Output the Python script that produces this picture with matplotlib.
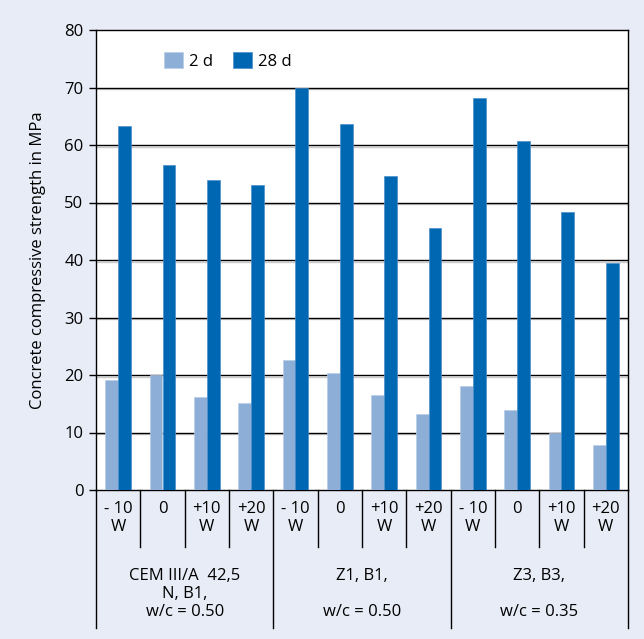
import matplotlib
matplotlib.use("Agg")
import matplotlib.pyplot as plt
import matplotlib.patheffects as pe
import numpy as np

plt.rcParams['font.family'] = ['Open Sans', 'DejaVu Sans']

sub_labels = ["- 10\nW", "0", "+10\nW", "+20\nW"] * 3
group_labels = ["CEM III/A  42,5\nN, B1,\nw/c = 0.50",
                "Z1, B1,\n\nw/c = 0.50",
                "Z3, B3,\n\nw/c = 0.35"]
series_names = ["2 d", "28 d"]
vals_2d = [19.1, 20.0, 16.2, 15.2, 22.6, 20.3, 16.5, 13.3, 18.1, 13.9, 10.0, 7.8]
vals_28d = [63.3, 56.5, 54.0, 53.0, 70.0, 63.6, 54.6, 45.6, 68.1, 60.7, 48.4, 39.5]
yticks = [0, 10, 20, 30, 40, 50, 60, 70, 80]

c2 = "#8daed7"
c28 = "#0068b3"
bg = "#e8ecf6"
fs = 12

fig = plt.figure(figsize=(6.44, 6.39), dpi=100, facecolor=bg)
ax = fig.add_axes([96/644, 1-490/639, (628-96)/644, 460/639])
ax.set_facecolor("white")

x = np.arange(len(vals_2d))
w = 0.29
for yv in yticks[1:-1]:
    ax.axhline(yv, color="black", lw=1.0, zorder=1,
               path_effects=[pe.SimpleLineShadow(offset=(0, -1.2), shadow_color="#999999", alpha=0.5), pe.Normal()])
ax.bar(x - w/2, vals_2d, width=w, color=c2, edgecolor="#b8cce6", linewidth=0.5, zorder=3, label=series_names[0])
ax.bar(x + w/2, vals_28d, width=w, color=c28, edgecolor="#4a8fcb", linewidth=0.5, zorder=3, label=series_names[1])

ax.set_xlim(-0.5, 11.5)
ax.set_ylim(0, 80)
ax.set_yticks(yticks)
ax.set_yticklabels([str(v) for v in yticks], fontsize=fs)
ax.tick_params(axis="y", direction="out", length=5, width=1, pad=4)
ax.set_xticks([])
for s in ax.spines.values():
    s.set_color("black")
    s.set_linewidth(1.0)
ax.set_ylabel("Concrete compressive strength in MPa", fontsize=fs, labelpad=13)

leg = ax.legend(loc="upper left", bbox_to_anchor=(0.1, 0.985), ncol=2, frameon=False,
                fontsize=fs, handlelength=1.1, handleheight=1.1, handletextpad=0.4,
                columnspacing=1.2)

trans = ax.get_xaxis_transform()
def fy(px):
    return (490 - px) / 460

# separator lines
for b in np.arange(-0.5, 12, 1.0):
    bottom = fy(628) if (b + 0.5) % 4 == 0 else fy(547)
    ax.plot([b, b], [0, bottom], transform=trans, color="black", lw=1.0, clip_on=False, zorder=5)

for i, lab in enumerate(sub_labels):
    ax.text(i, fy(501), lab, transform=trans, ha="center", va="top", fontsize=fs,
            linespacing=1.2)

for g, lab in enumerate(group_labels):
    ax.text(g*4 + 1.5, fy(568), lab, transform=trans, ha="center", va="top", fontsize=fs,
            linespacing=1.15)

fig.savefig("out.png", dpi=100, facecolor=bg)
